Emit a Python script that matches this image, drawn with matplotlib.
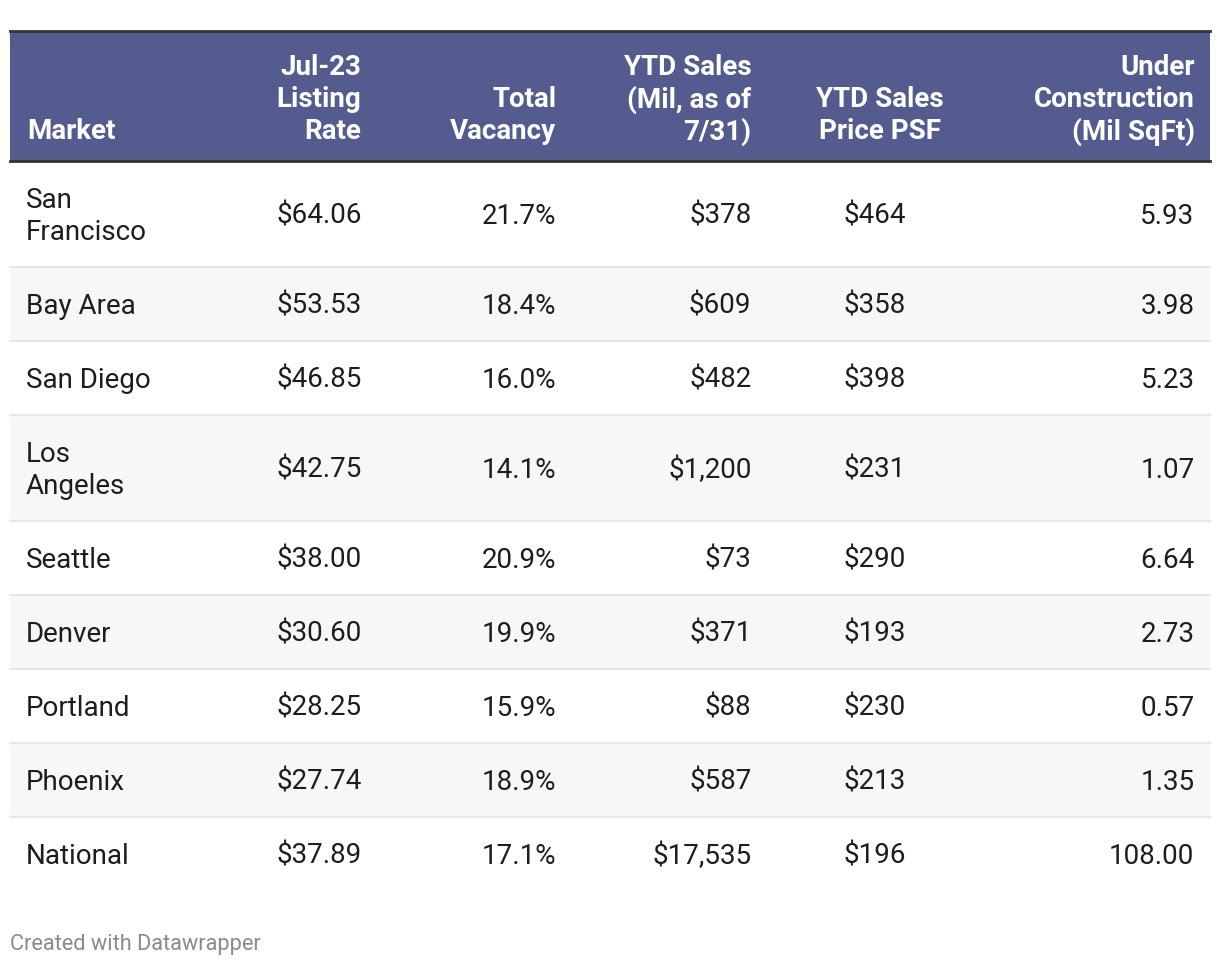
import matplotlib.pyplot as plt
from matplotlib.patches import Rectangle

plt.rcParams['font.family'] = ['Roboto', 'DejaVu Sans']

headers = ["Market", "Jul-23\nListing\nRate", "Total\nVacancy",
           "YTD Sales\n(Mil, as of\n7/31)", "YTD Sales\nPrice PSF",
           "Under\nConstruction\n(Mil SqFt)"]

markets = ["San\nFrancisco", "Bay Area", "San Diego", "Los\nAngeles", "Seattle",
           "Denver", "Portland", "Phoenix", "National"]
listing_rate = ["$64.06", "$53.53", "$46.85", "$42.75", "$38.00",
                "$30.60", "$28.25", "$27.74", "$37.89"]
vacancy = ["21.7%", "18.4%", "16.0%", "14.1%", "20.9%",
           "19.9%", "15.9%", "18.9%", "17.1%"]
ytd_sales = ["$378", "$609", "$482", "$1,200", "$73",
             "$371", "$88", "$587", "$17,535"]
price_psf = ["$464", "$358", "$398", "$231", "$290",
             "$193", "$230", "$213", "$196"]
under_construction = ["5.93", "3.98", "5.23", "1.07", "6.64",
                      "2.73", "0.57", "1.35", "108.00"]

columns = [markets, listing_rate, vacancy, ytd_sales, price_psf, under_construction]

W, H = 1220, 966
fig = plt.figure(figsize=(W / 100, H / 100), dpi=100)
ax = fig.add_axes([0, 0, 1, 1])
ax.set_xlim(0, W)
ax.set_ylim(H, 0)
ax.axis("off")

left, right = 10, 1210
# (x anchor, alignment) per column, header and body
head_pos = [(27, "left"), (361.5, "right"), (556.5, "right"), (751.5, "right"),
            (880, "center"), (1194.5, "right")]
body_pos = [(26, "left"), (361.5, "right"), (556.5, "right"), (751.5, "right"),
            (875, "center"), (1194.5, "right")]
fs = 20
line_h = 32
dy = 2.5  # va="center" sits a little high for this font
header_top, header_bot = 31, 161

# header
ax.add_patch(Rectangle((left, header_top), right - left, header_bot - header_top,
                       color="#535b8f", lw=0))
ax.plot([left, right], [header_top, header_top], color="#333333", lw=2)
ax.plot([left, right], [header_bot, header_bot], color="#333333", lw=2)
for (x, ha), h in zip(head_pos, headers):
    lines = h.split("\n")
    for i, ln in enumerate(reversed(lines)):
        ax.text(x, 129 + dy - i * line_h, ln, ha=ha, va="center", color="white",
                fontsize=fs, fontweight="bold")

# body rows
y = header_bot
for r in range(len(markets)):
    nlines = max(col[r].count("\n") + 1 for col in columns)
    rh = 42 + line_h * nlines
    if r % 2 == 1:
        ax.add_patch(Rectangle((left, y), right - left, rh, color="#f7f7f7", lw=0))
    if r < len(markets) - 1:
        ax.plot([left, right], [y + rh, y + rh], color="#e6e6e6", lw=1.5)
    cy = y + rh / 2 + dy
    for (x, ha), col in zip(body_pos, columns):
        lines = col[r].split("\n")
        n = len(lines)
        for i, ln in enumerate(lines):
            ax.text(x, cy + (i - (n - 1) / 2) * line_h, ln, ha=ha, va="center",
                    color="#1d1d1d", fontsize=fs)
    y += rh

ax.text(10, 942 + dy, "Created with Datawrapper", ha="left", va="center",
        color="#8a8a8a", fontsize=15.7)

fig.savefig("out.png", dpi=100)
